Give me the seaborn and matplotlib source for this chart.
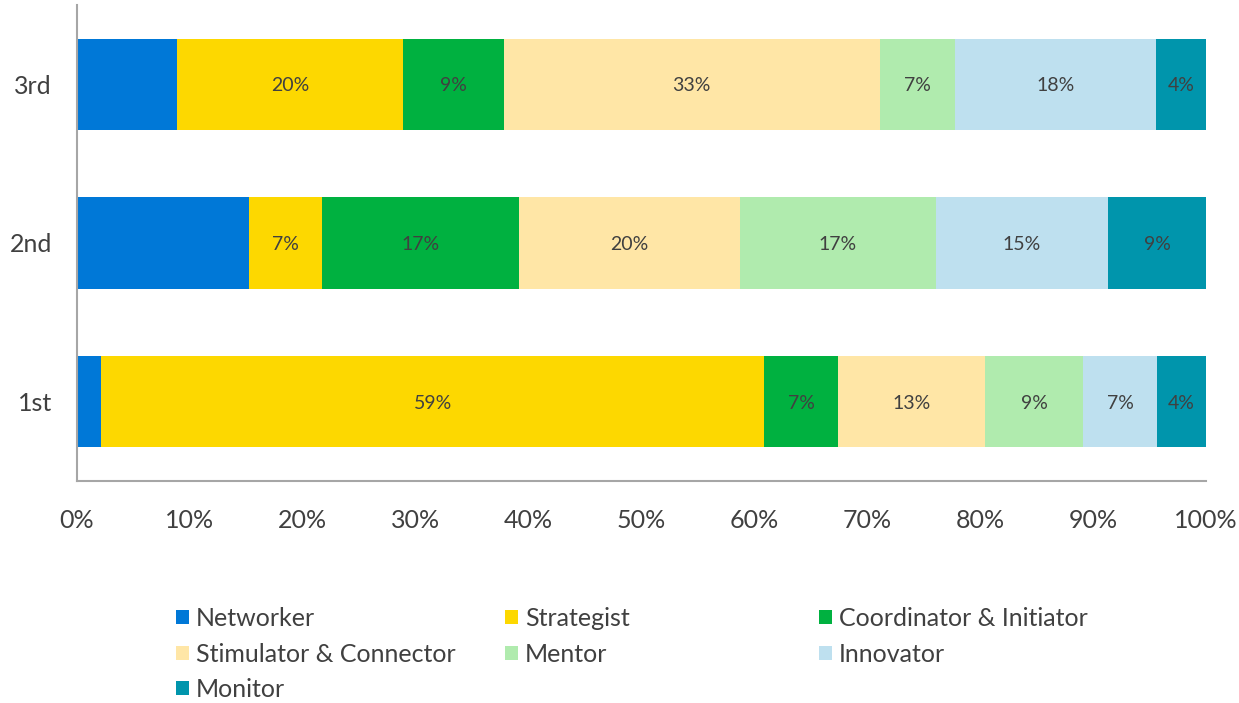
import numpy as np
import pandas as pd
import seaborn as sns
import matplotlib.pyplot as plt
from matplotlib.patches import Patch

# rows top to bottom
ranks = ['3rd', '2nd', '1st']
roles = ['Networker', 'Strategist', 'Coordinator & Initiator', 'Stimulator & Connector',
         'Mentor', 'Innovator', 'Monitor']
colors = ['#0078D7', '#FDD800', '#00B140', '#FFE6A6', '#B0EBAE', '#BEE0EF', '#0095AC']

# share of each role (percent)
third = [8.89, 20.00, 8.89, 33.33, 6.67, 17.78, 4.44]
second = [15.22, 6.52, 17.39, 19.57, 17.39, 15.22, 8.70]
first = [2.17, 58.70, 6.52, 13.04, 8.70, 6.52, 4.35]

sns.set_style('white')
plt.rcParams['font.family'] = ['Lato', 'DejaVu Sans']

df = pd.DataFrame([third, second, first], columns=roles)
df['rank'] = ranks
cum = df[roles].cumsum(axis=1)

fig = plt.figure(figsize=(12.39, 7.03), dpi=100)
ax = fig.add_axes([77 / 1239, 1 - 481 / 703, (1206 - 77) / 1239, 476 / 703])

# stacked bars: draw cumulative totals from the longest down
for i in reversed(range(len(roles))):
    sns.barplot(x=cum[roles[i]], y=df['rank'], order=ranks, orient='h', color=colors[i],
                saturation=1, width=0.574, linewidth=0, ax=ax)

# labels in the segment centres (Networker left unlabeled, as in the original)
for r, rank in enumerate(ranks):
    left = 0
    for i, role in enumerate(roles):
        v = df.loc[r, role]
        if i > 0:
            ax.text(left + v / 2, r + 0.01, f'{v:.0f}%', ha='center', va='center',
                    fontsize=14, color='#404040')
        left += v

ax.set_xlim(0, 100)
ax.set_ylim(2.5, -0.5)
ax.set_xticks(np.arange(0, 101, 10))
ax.set_xticklabels([f'{t}%' for t in range(0, 101, 10)])
ax.set_xlabel('')
ax.set_ylabel('')
ax.tick_params(axis='x', length=0, pad=20, labelsize=18, labelcolor='#404040')
ax.tick_params(axis='y', length=0, pad=18, labelsize=18, labelcolor='#404040')
for lbl in ax.get_yticklabels():
    lbl.set_va('center_baseline')
for s in ['top', 'right']:
    ax.spines[s].set_visible(False)
for s in ['left', 'bottom']:
    ax.spines[s].set_color('#A6A6A6')
    ax.spines[s].set_linewidth(1.5)

# legend in three equal columns, filled row-wise like the original
handles = [Patch(facecolor=c, edgecolor='none') for c in colors]
cols = [[0, 3, 6], [1, 4], [2, 5]]
xs = [176, 505, 819]
for idx, x in zip(cols, xs):
    fig.legend([handles[k] for k in idx], [roles[k] for k in idx], loc='upper left',
               bbox_to_anchor=(x / 1239, 1 - 607 / 703), frameon=False, fontsize=18,
               handlelength=0.5, handleheight=0.5, handletextpad=0.3,
               labelspacing=0.5, labelcolor='#404040', borderpad=0, borderaxespad=0)

fig.savefig('out.png', dpi=100)
